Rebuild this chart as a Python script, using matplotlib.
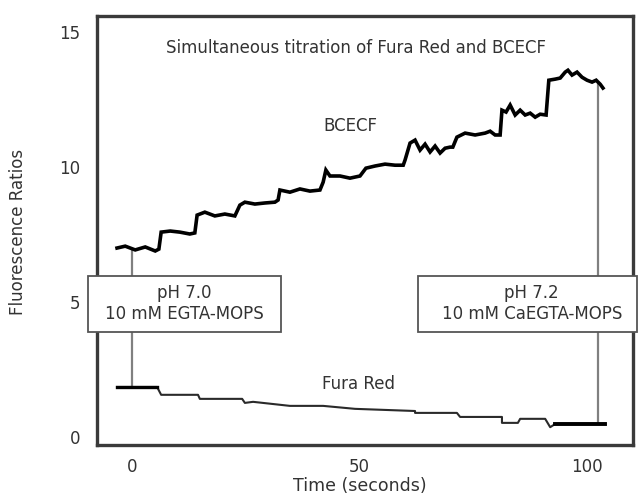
import matplotlib
matplotlib.use("Agg")
import matplotlib.pyplot as plt
from matplotlib.patches import Rectangle

# BCECF trace (time in s, ratio)
bcecf_t = [-3.3, -1.5, 0.7, 2.9, 5.1, 5.9, 6.4, 8.4, 10.5, 12.7, 13.8, 14.3, 16.0, 18.2,
           20.4, 22.6, 23.7, 24.8, 27.0, 29.2, 31.4, 32.1, 32.5, 34.7, 36.9, 39.1, 41.3,
           42.0, 42.6, 43.5, 45.7, 47.9, 50.1, 51.4, 53.4, 55.6, 57.8, 59.6, 60.0, 61.1,
           62.2, 63.3, 64.4, 65.5, 66.6, 67.7, 68.8, 69.9, 70.5, 71.4, 73.2, 75.4, 77.6,
           78.7, 79.8, 80.9, 81.3, 82.2, 83.1, 84.2, 85.3, 86.4, 87.5, 88.6, 89.7, 91.0,
           91.6, 93.0, 94.1, 95.2, 95.8, 96.7, 97.8, 98.9, 100.0, 101.1, 102.0, 102.9, 103.5]
bcecf_v = [7.00, 7.07, 6.93, 7.04, 6.89, 6.96, 7.59, 7.63, 7.59, 7.52, 7.56, 8.22, 8.33, 8.19,
           8.26, 8.19, 8.59, 8.70, 8.63, 8.67, 8.70, 8.78, 9.15, 9.07, 9.19, 9.11, 9.15,
           9.44, 9.89, 9.67, 9.67, 9.59, 9.67, 9.96, 10.04, 10.11, 10.07, 10.07, 10.26, 10.89,
           11.00, 10.63, 10.85, 10.56, 10.78, 10.52, 10.70, 10.74, 10.74, 11.11, 11.26, 11.19, 11.26,
           11.33, 11.19, 11.19, 12.11, 12.04, 12.30, 11.93, 12.11, 11.93, 12.00, 11.85, 11.96, 11.93,
           13.22, 13.26, 13.30, 13.52, 13.59, 13.41, 13.52, 13.33, 13.22, 13.15, 13.22, 13.07, 12.93]

# Fura Red trace (stepwise)
fura_t = [-3.3, 5.5, 6.4, 14.5, 14.9, 24.2, 24.8, 26.6, 34.7, 42.0, 49.0, 62.2,
          62.2, 71.4, 72.1, 81.3, 81.3, 84.8, 85.3, 90.8, 91.9, 93.0, 104.0]
fura_v = [1.85, 1.85, 1.56, 1.56, 1.41, 1.41, 1.26, 1.30, 1.15, 1.15, 1.04, 0.96,
          0.89, 0.89, 0.74, 0.74, 0.52, 0.52, 0.67, 0.67, 0.36, 0.48, 0.48]

# solution changes: time, top (BCECF), bottom (Fura Red)
mark_t = [0, 102.4]
mark_top = [7.0, 13.1]
mark_bot = [1.85, 0.48]
box_lines = [("pH 7.0", "10 mM EGTA-MOPS"), ("pH 7.2", "10 mM CaEGTA-MOPS")]

fig = plt.figure(figsize=(6.4, 4.94), dpi=100)
ax = fig.add_axes([97 / 640, 49 / 494, 536 / 640, 429 / 494])

txt = "#333333"
ax.vlines(mark_t, mark_bot, mark_top, color="#808080", lw=1.6, zorder=1)
ax.plot(bcecf_t, bcecf_v, color="black", lw=2.6, solid_joinstyle="miter", zorder=2)
ax.plot(fura_t, fura_v, color="#2a2a2a", lw=1.5, zorder=2)
ax.plot(fura_t[:2], fura_v[:2], color="black", lw=2.4, zorder=2)
ax.plot(fura_t[-2:], fura_v[-2:], color="black", lw=2.8, zorder=2)

ax.set_xlim(-7.7, 110.1)
ax.set_ylim(-0.3, 15.6)
ax.set_xticks([0, 50, 100])
ax.set_yticks([0, 5, 10, 15])
ax.tick_params(length=0, labelsize=12, labelcolor=txt, pad=12)
ax.tick_params(axis="x", pad=9)
for sp in ax.spines.values():
    sp.set_linewidth(2.4)
    sp.set_color("#3a3a3a")

ax.text(0.483, 0.925, "Simultaneous titration of Fura Red and BCECF", transform=ax.transAxes,
        ha="center", va="center", fontsize=12, color=txt)
ax.text(0.472, 0.744, "BCECF", transform=ax.transAxes, ha="center", va="center",
        fontsize=12, color=txt)
ax.text(0.487, 0.143, "Fura Red", transform=ax.transAxes, ha="center", va="center",
        fontsize=12, color=txt)

# label boxes
boxes = [(-0.017, 0.343), (0.599, 1.007)]
for (x0, x1), (l1, l2) in zip(boxes, box_lines):
    ax.add_patch(Rectangle((x0, 0.264), x1 - x0, 0.130, transform=ax.transAxes,
                           facecolor="white", edgecolor="#555555", lw=1.3,
                           clip_on=False, zorder=5))
    xc = (x0 + x1) / 2 + (0.0 if x0 < 0 else 0.008)
    ax.text(xc, 0.355, l1, transform=ax.transAxes, ha="center", va="center",
            fontsize=12, color=txt, zorder=6)
    ax.text(xc, 0.306, l2, transform=ax.transAxes, ha="center", va="center",
            fontsize=12, color=txt, zorder=6)

fig.text(18 / 640, 1 - 232 / 494, "Fluorescence Ratios", rotation=90, ha="center",
         va="center", fontsize=12, color=txt)
fig.text(360 / 640, 1 - 486 / 494, "Time (seconds)", ha="center", va="center",
         fontsize=12.5, color=txt)

fig.savefig("out.png", dpi=100)
